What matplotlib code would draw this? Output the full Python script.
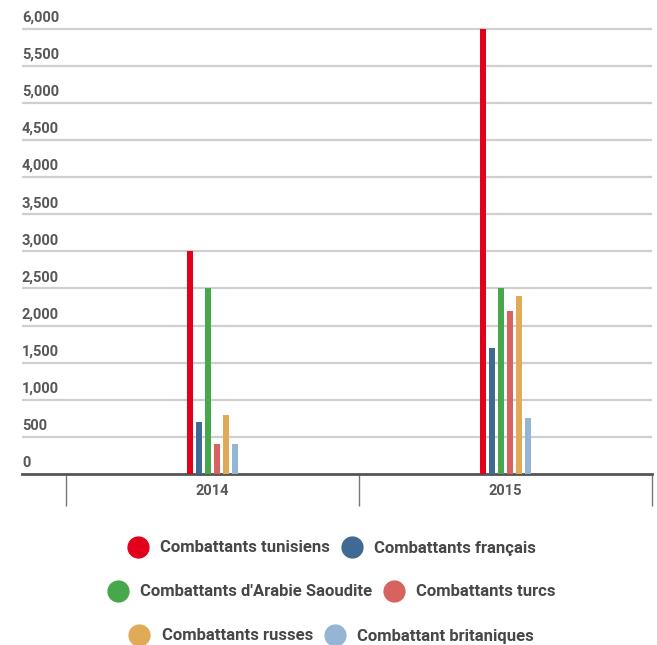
import matplotlib.pyplot as plt
from matplotlib.lines import Line2D
from matplotlib.transforms import offset_copy

plt.rcParams['font.family'] = ['Roboto', 'DejaVu Sans']

annees = ['2014', '2015']
series = [
    'Combattants tunisiens',
    'Combattants français',
    "Combattants d'Arabie Saoudite",
    'Combattants turcs',
    'Combattants russes',
    'Combattant britaniques',
]
valeurs = [
    [3000, 6000],
    [700, 1700],
    [2500, 2500],
    [400, 2200],
    [800, 2400],
    [400, 750],
]
couleurs = ['#e3001b', '#3f6a93', '#46a84b', '#d8625e', '#e0aa56', '#95b5d5']
graduations = [0, 500, 1000, 1500, 2000, 2500, 3000, 3500, 4000, 4500, 5000, 5500, 6000]

fig = plt.figure(figsize=(6.57, 6.45), dpi=100)
fig.patch.set_facecolor('white')
ax = fig.add_axes([22 / 657, 171 / 645, 630 / 657, 449 / 645])

largeur = 0.021
pas = 0.031
for i, (nom, vals, c) in enumerate(zip(series, valeurs, couleurs)):
    decal = (i - 2.5) * pas
    ax.bar([k + decal for k in range(len(annees))], vals, width=largeur,
           color=c, zorder=3, label=nom)

ax.set_xlim(-0.65, 1.5)
ax.set_ylim(0, 6050)

# grille horizontale et étiquettes posées au-dessus des lignes
for g in graduations[1:]:
    ax.axhline(g, color='#cfcfcf', lw=1.6, zorder=1)
trans = offset_copy(ax.get_yaxis_transform(), fig=fig, y=3, units='points')
for g in graduations:
    ax.text(0, g, f'{g:,}', transform=trans, ha='left', va='bottom',
            fontsize=10.5, fontweight='bold', color='#575757')

ax.set_yticks([])
for s in ['top', 'right', 'left']:
    ax.spines[s].set_visible(False)
ax.spines['bottom'].set_color('#555555')
ax.spines['bottom'].set_linewidth(2)

ax.set_xticks(range(len(annees)))
ax.set_xticklabels(annees, fontsize=10.5, fontweight='bold', color='#575757')
ax.tick_params(axis='x', which='major', length=0, pad=7)
ax.set_xticks([-0.5, 0.5, 1.5], minor=True)
ax.tick_params(axis='x', which='minor', length=23, width=1, color='#777777',
               direction='out')

# légende sur trois lignes de deux entrées
poignees = [Line2D([], [], marker='o', ls='', markersize=15,
                   markerfacecolor=c, markeredgecolor=c) for c in couleurs]
for r, y in enumerate([548, 592, 636]):
    leg = fig.legend(poignees[2 * r:2 * r + 2], series[2 * r:2 * r + 2],
                     loc='center', bbox_to_anchor=(0.505, 1 - y / 645),
                     ncol=2, frameon=False, handletextpad=0.75,
                     columnspacing=0.7, handlelength=1.2,
                     prop={'size': 12, 'weight': 'bold'})
    for t in leg.get_texts():
        t.set_color('#474747')

fig.savefig('out.png', dpi=100)
